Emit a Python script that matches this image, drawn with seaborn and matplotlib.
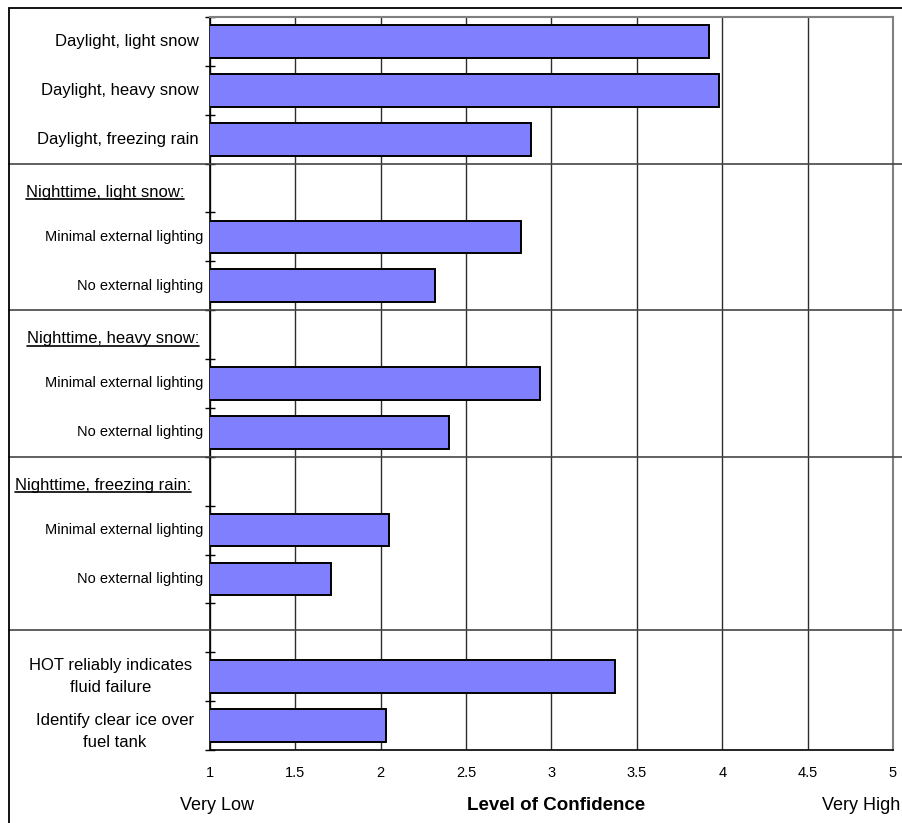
import numpy as np
import pandas as pd
import matplotlib
matplotlib.use("Agg")
import matplotlib.pyplot as plt
import matplotlib.transforms as mtransforms
from matplotlib.patches import Rectangle
from matplotlib.lines import Line2D
import seaborn as sns

# ---- data -------------------------------------------------------------
row_labels = [
    "Daylight, light snow",
    "Daylight, heavy snow",
    "Daylight, freezing rain",
    "Nighttime, light snow:",
    "Minimal external lighting",
    "No external lighting",
    "Nighttime, heavy snow:",
    "Minimal external lighting",
    "No external lighting",
    "Nighttime, freezing rain:",
    "Minimal external lighting",
    "No external lighting",
    "",
    "HOT reliably indicates\nfluid failure",
    "Identify clear ice over\nfuel tank",
]
row_kind = ["main", "main", "main",
            "header", "sub", "sub",
            "header", "sub", "sub",
            "header", "sub", "sub",
            "blank", "multi", "multi"]
confidence = [3.92, 3.98, 2.88,
              np.nan, 2.82, 2.32,
              np.nan, 2.93, 2.40,
              np.nan, 2.05, 1.71,
              np.nan, 3.37, 2.03]
x_ticks = [1, 1.5, 2, 2.5, 3, 3.5, 4, 4.5, 5]
x_tick_labels = ["1", "1.5", "2", "2.5", "3", "3.5", "4", "4.5", "5"]
scale_low = "Very Low"
scale_high = "Very High"
axis_title = "Level of Confidence"
group_breaks = [2.5, 5.5, 8.5, 12.05]

row_ids = [f"row{i:02d}" for i in range(len(row_labels))]
df = pd.DataFrame({"row": row_ids, "confidence": confidence})

# ---- style ------------------------------------------------------------
sns.set_theme(style="white")
plt.rcParams["font.family"] = ["Liberation Sans", "DejaVu Sans"]

W, H = 903, 823
fig = plt.figure(figsize=(W / 100, H / 100), dpi=100, facecolor="white")
ax = fig.add_axes([210 / W, 1 - 750 / H, (893 - 210) / W, (750 - 17) / H])

sns.barplot(data=df, x="confidence", y="row", order=row_ids, orient="h",
            color="#8080FF", saturation=1, edgecolor="black", linewidth=1.4,
            width=0.67, errorbar=None, ax=ax, zorder=3)

ax.set_xlim(1, 5)
ax.set_ylim(len(row_ids) - 0.5, -0.5)
ax.set_xlabel("")
ax.set_ylabel("")

# vertical gridlines
ax.set_axisbelow(True)
ax.set_xticks(x_ticks)
ax.set_xticklabels(x_tick_labels, fontsize=10.5, color="black")
ax.grid(axis="x", color="#2e2e2e", linewidth=1.0)
ax.grid(axis="y", visible=False)
ax.tick_params(axis="x", which="major", direction="inout", length=7,
               width=1, color="black", pad=8)

# ticks at row boundaries; category text is drawn separately
ax.set_yticks(range(len(row_ids)))
ax.set_yticklabels([""] * len(row_ids))
ax.set_yticks(np.arange(-0.5, len(row_ids), 1.0), minor=True)
ax.tick_params(axis="y", which="major", length=0)
ax.tick_params(axis="y", which="minor", direction="inout", length=7,
               width=1, color="black", left=True)

for side in ("left", "bottom"):
    ax.spines[side].set_color("black")
    ax.spines[side].set_linewidth(1.2)
for side in ("top", "right"):
    ax.spines[side].set_color("#808080")
    ax.spines[side].set_linewidth(1.5)

# outer frame of the chart
fig.patches.append(Rectangle((9 / W, -0.1), 1.2, 1.1 - 8 / H,
                             transform=fig.transFigure, fill=False,
                             edgecolor="black", linewidth=1.3, zorder=0))

blend = mtransforms.blended_transform_factory(fig.transFigure, ax.transData)

# horizontal group separators spanning label column and plot
for yb in group_breaks:
    ax.add_line(Line2D([9 / W, 1.0], [yb, yb], transform=blend, color="#454545",
                       linewidth=1.2, clip_on=False, zorder=4))

# category text in the label column
label_anchor_px = {"main": 199, "sub": 203}
multi_anchor = {13: (111, 0.0), 14: (115, 0.12)}
header_left_px = {3: 26, 6: 27, 9: 15}
header_texts = []
for i, (lab, kind) in enumerate(zip(row_labels, row_kind)):
    if kind == "main":
        ax.text(label_anchor_px["main"] / W, i, lab, transform=blend,
                ha="right", va="center", fontsize=12, color="black")
    elif kind == "sub":
        ax.text(label_anchor_px["sub"] / W, i, lab, transform=blend,
                ha="right", va="center", fontsize=10.5, color="black")
    elif kind == "multi":
        cx, dy = multi_anchor[i]
        ax.text(cx / W, i + dy, lab, transform=blend,
                ha="center", va="center", multialignment="center",
                linespacing=1.55, fontsize=12, color="black")
    elif kind == "header":
        t = ax.text(header_left_px[i] / W, i + 0.18, lab, transform=blend,
                    ha="left", va="baseline", fontsize=12, color="black")
        header_texts.append((i, t))

# underline the group headers
fig.canvas.draw()
renderer = fig.canvas.get_renderer()
for i, t in header_texts:
    bb = t.get_window_extent(renderer)
    y_base = ax.transData.transform((1, i + 0.18))[1]
    y_line = (y_base - 2.2) / H
    fig.lines.append(Line2D([bb.x0 / W, bb.x1 / W], [y_line, y_line],
                            transform=fig.transFigure, color="black",
                            linewidth=1.2))

# scale anchors and axis title
fig.text(217 / W, 1 - 806 / H, scale_low, ha="center", va="center",
         fontsize=13, color="black")
fig.text(556 / W, 1 - 805 / H, axis_title, ha="center", va="center",
         fontsize=13.5, fontweight="bold", color="black")
fig.text(822 / W, 1 - 806 / H, scale_high, ha="left", va="center",
         fontsize=13, color="black")

fig.savefig("out.png", dpi=100, facecolor="white")
